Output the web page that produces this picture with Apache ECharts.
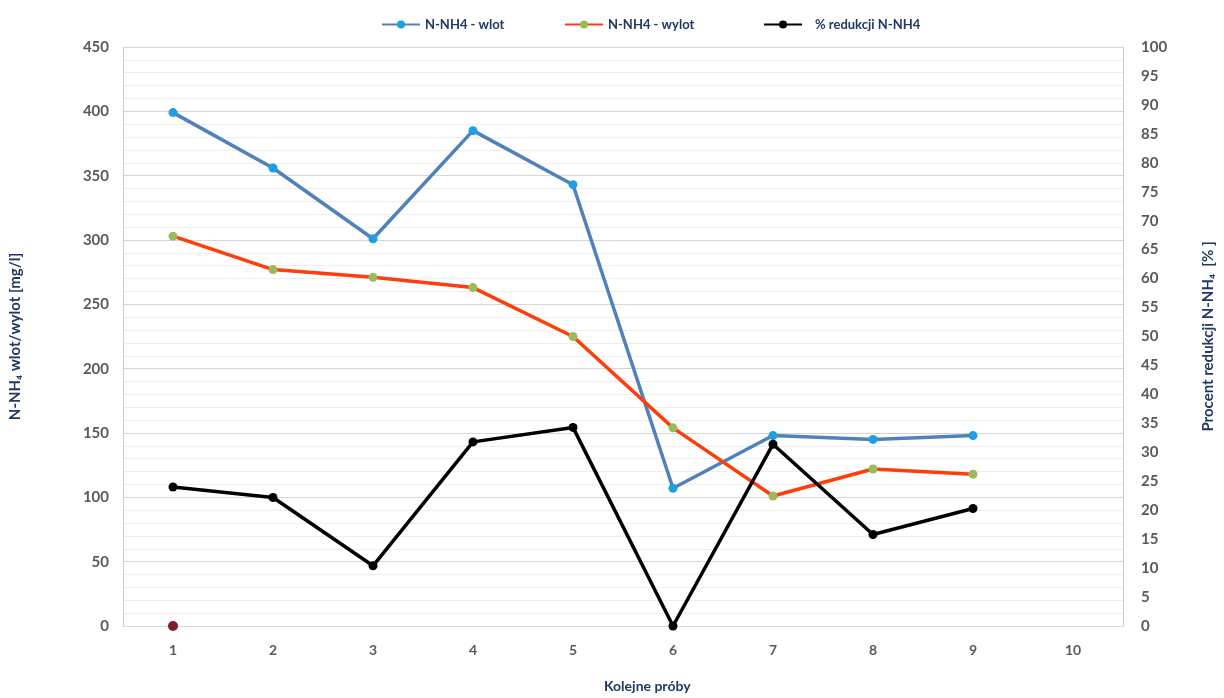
<!DOCTYPE html>
<html>
<head>
<meta charset="utf-8">
<script src="https://cdn.jsdelivr.net/npm/echarts@6/dist/echarts.min.js"></script>
<style>
  html, body { margin: 0; padding: 0; background: #ffffff; }
  #chart { width: 1224px; height: 698px; }
</style>
</head>
<body>
<div id="chart"></div>
<script>
// Kolejne próby (sample numbers)
const categories = ['1', '2', '3', '4', '5', '6', '7', '8', '9', '10'];

// N-NH4 at inlet and outlet [mg/l]
const wlot = [399, 356, 301, 385, 343, 107, 148, 145, 148];
const wylot = [303, 277, 271, 263, 225, 154, 101, 122, 118];

// Reduction of N-NH4 [%]
const redukcja = [24.0, 22.2, 10.4, 31.8, 34.3, 0, 31.4, 15.8, 20.3];

// Single extra marker sitting on the baseline of sample 1
const punktZero = [0];

// Axis tick labels
const leftTicks = { min: 0, max: 450, step: 50 };
const rightTicks = { min: 0, max: 100, step: 5 };

const FONT = 'Lato, "Open Sans", sans-serif';
const NAVY = '#1f3864';
const LABEL_GREY = '#595959';

const chart = echarts.init(document.getElementById('chart'), null, { renderer: 'canvas' });

const legendText = { color: NAVY, fontFamily: FONT, fontWeight: 'bold', fontSize: 13 };
const hidden = { show: false, lineStyle: { color: 'rgba(0,0,0,0)', width: 0 } };

const option = {
  backgroundColor: '#ffffff',
  animation: false,
  legend: [
    { data: ['N-NH4 - wlot'], left: 376, top: 13, itemWidth: 38, itemHeight: 10, textStyle: legendText },
    { data: ['N-NH4 - wylot'], left: 559, top: 13, itemWidth: 38, itemHeight: 10, textStyle: legendText },
    { data: ['% redukcji N-NH4'], left: 758, top: 13, itemWidth: 38, itemHeight: 10, textStyle: Object.assign({}, legendText, { padding: [0, 0, 0, 8] }) }
  ],
  grid: { left: 123, right: 93, top: 47, bottom: 72, containLabel: false, show: false },
  xAxis: {
    type: 'category',
    data: categories,
    boundaryGap: true,
    axisLine: { show: true, lineStyle: { color: '#d9d9d9', width: 1 } },
    axisTick: { show: false },
    axisLabel: { color: LABEL_GREY, fontFamily: FONT, fontWeight: 'bold', fontSize: 14, margin: 17 },
    splitLine: hidden,
    minorSplitLine: hidden,
    splitArea: { show: false }
  },
  yAxis: [
    {
      type: 'value',
      position: 'left',
      min: leftTicks.min,
      max: leftTicks.max,
      interval: leftTicks.step,
      name: 'N-NH\u2084 wlot/wylot [mg/l]',
      nameLocation: 'middle',
      nameRotate: 90,
      nameGap: 100,
      nameTextStyle: { color: NAVY, fontFamily: FONT, fontWeight: 'bold', fontSize: 15 },
      axisLine: { show: true, lineStyle: { color: '#b9d3df', width: 1 } },
      axisTick: { show: false },
      axisLabel: { color: LABEL_GREY, fontFamily: FONT, fontWeight: 'bold', fontSize: 15, margin: 14 },
      splitLine: { show: true, lineStyle: { color: '#d6d6d6', width: 1 } },
      minorTick: { show: false, splitNumber: 5 },
      minorSplitLine: { show: true, lineStyle: { color: '#eeeeee', width: 1 } }
    },
    {
      type: 'value',
      position: 'right',
      min: rightTicks.min,
      max: rightTicks.max,
      interval: rightTicks.step,
      name: 'Procent redukcji N-NH\u2084  [% ]',
      nameLocation: 'middle',
      nameRotate: 90,
      nameGap: 78,
      nameTextStyle: { color: NAVY, fontFamily: FONT, fontWeight: 'bold', fontSize: 15 },
      axisLine: { show: true, lineStyle: { color: '#b9d3df', width: 1 } },
      axisTick: { show: false },
      axisLabel: { color: LABEL_GREY, fontFamily: FONT, fontWeight: 'bold', fontSize: 15, margin: 18 },
      splitLine: hidden,
      minorSplitLine: hidden
    }
  ],
  graphic: [
    {
      type: 'text',
      left: 649 - 45,
      top: 679,
      style: { text: 'Kolejne próby', fill: NAVY, font: 'bold 14px ' + FONT }
    }
  ],
  series: [
    {
      name: 'N-NH4 - wlot',
      type: 'line',
      yAxisIndex: 0,
      data: wlot,
      symbol: 'circle',
      symbolSize: 9,
      lineStyle: { color: '#4f81bd', width: 3.5 },
      itemStyle: { color: '#1ea0e0', borderWidth: 0 },
      z: 2
    },
    {
      name: 'N-NH4 - wylot',
      type: 'line',
      yAxisIndex: 0,
      data: wylot,
      symbol: 'circle',
      symbolSize: 9,
      lineStyle: { color: '#ff3c0a', width: 3.5 },
      itemStyle: { color: '#9bbb59', borderWidth: 0 },
      z: 3
    },
    {
      name: '% redukcji N-NH4',
      type: 'line',
      yAxisIndex: 1,
      data: redukcja,
      symbol: 'circle',
      symbolSize: 9,
      lineStyle: { color: '#000000', width: 3.5 },
      itemStyle: { color: '#000000', borderWidth: 0 },
      z: 4
    },
    {
      name: 'punkt',
      type: 'line',
      yAxisIndex: 0,
      data: punktZero,
      symbol: 'circle',
      symbolSize: 10,
      showSymbol: true,
      lineStyle: { width: 0 },
      itemStyle: { color: '#7f1f2c', borderWidth: 0 },
      z: 5
    }
  ]
};

chart.setOption(option);
</script>
</body>
</html>
